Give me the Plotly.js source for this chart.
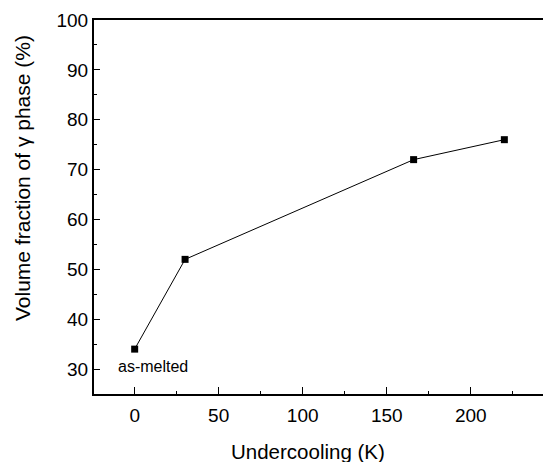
<!DOCTYPE html>
<html>
<head>
<meta charset="utf-8">
<script src="https://cdn.plot.ly/plotly-3.0.1.min.js"></script>
<style>html,body{margin:0;padding:0;background:#fff;}#chart{width:543px;height:462px;}</style>
</head>
<body>
<div id="chart"></div>
<script>
const undercooling = [0, 30, 166, 220];
const gammaFraction = [34, 52, 72, 76];
const xTitle = "Undercooling (K)";
const yTitle = "Volume fraction of γ phase (%)";
const pointLabel = "as-melted";

const font = "Liberation Sans, Arial, Helvetica, sans-serif";

const trace = {
  x: undercooling,
  y: gammaFraction,
  mode: "lines+markers",
  type: "scatter",
  line: {color: "#000", width: 1},
  marker: {symbol: "square", size: 7, color: "#000"},
  showlegend: false,
  hoverinfo: "x+y"
};

const plotW = 543 - 94, plotH = 462 - 20 - 68;

const layout = {
  width: 543,
  height: 462,
  margin: {l: 94, r: 0, t: 20, b: 68},
  paper_bgcolor: "#fff",
  plot_bgcolor: "#fff",
  font: {family: font, color: "#000", size: 19},
  xaxis: {
    range: [-24.2, 243],
    tickvals: [0, 50, 100, 150, 200],
    ticks: "inside",
    ticklen: 7,
    tickwidth: 1,
    tickcolor: "#000",
    minor: {dtick: 25, tick0: 0, ticks: "inside", ticklen: 3.5, tickwidth: 1, tickcolor: "#000"},
    showline: true,
    linewidth: 2,
    linecolor: "#000",
    mirror: true,
    showgrid: false,
    zeroline: false,
    tickfont: {size: 19, family: font},
    ticklabelstandoff: 3
  },
  yaxis: {
    range: [25, 100],
    tickvals: [30, 40, 50, 60, 70, 80, 90, 100],
    ticks: "inside",
    ticklen: 6,
    tickwidth: 1,
    tickcolor: "#000",
    minor: {dtick: 5, tick0: 0, ticks: "inside", ticklen: 3, tickwidth: 1, tickcolor: "#000"},
    showline: true,
    linewidth: 2,
    linecolor: "#000",
    showgrid: false,
    zeroline: false,
    tickfont: {size: 19, family: font}
  },
  annotations: [
    {x: 10.7, y: 30.6, xref: "x", yref: "y", text: pointLabel, showarrow: false,
     xanchor: "center", yanchor: "middle",
     font: {size: 16, family: font, color: "#000"}},
    {x: (308 - 94) / plotW, y: (394 - 451) / plotH, xref: "paper", yref: "paper",
     text: xTitle, showarrow: false, xanchor: "center", yanchor: "middle",
     font: {size: 20.5, family: font, color: "#000"}},
    {x: (22 - 94) / plotW, y: (394 - 178) / plotH, xref: "paper", yref: "paper",
     text: yTitle, showarrow: false, textangle: -90, xanchor: "center", yanchor: "middle",
     font: {size: 21, family: font, color: "#000"}}
  ]
};

Plotly.newPlot("chart", [trace], layout, {displayModeBar: false, staticPlot: true});
</script>
</body>
</html>
